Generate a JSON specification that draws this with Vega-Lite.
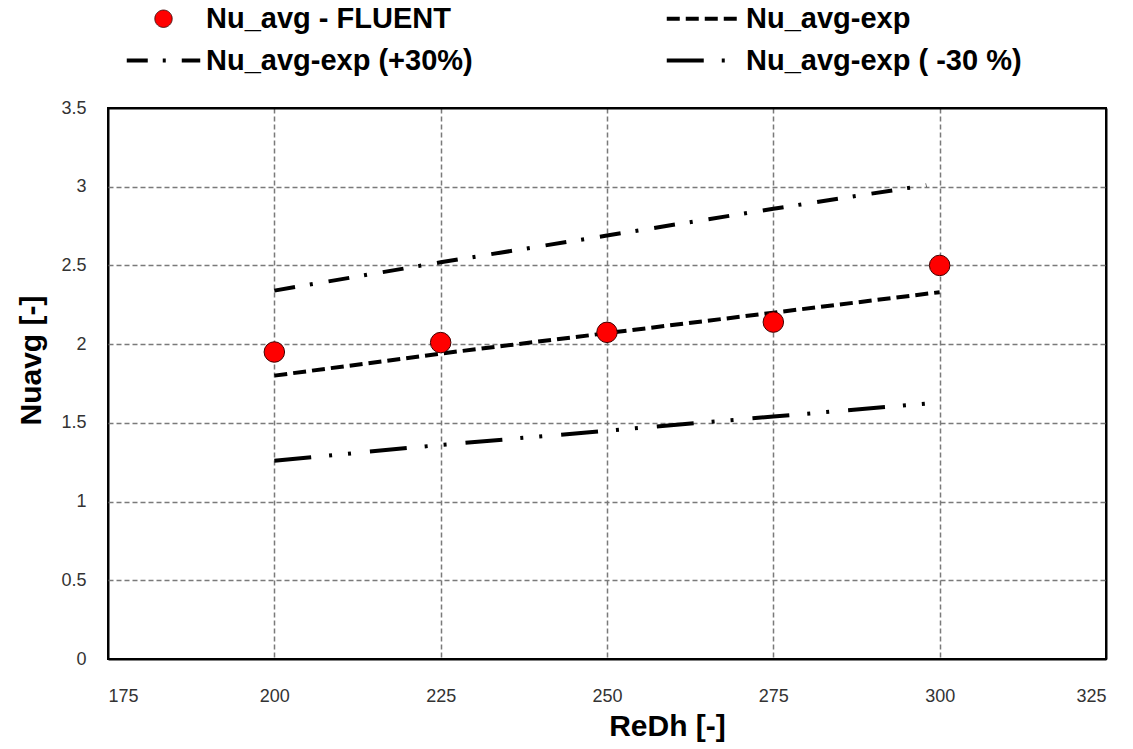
{
  "$schema": "https://vega.github.io/schema/vega-lite/v6.json",
  "width": 998,
  "height": 551,
  "autosize": {"type": "none"},
  "padding": {"left": 108, "top": 108, "right": 27, "bottom": 90},
  "background": "white",
  "config": {
    "view": {"stroke": "black", "strokeWidth": 2},
    "font": "Liberation Sans",
    "axis": {
      "domain": false,
      "ticks": false,
      "grid": true,
      "gridWidth": 1.5,
      "labelFont": "Liberation Sans",
      "labelFontSize": 18,
      "labelColor": "#333",
      "titleFont": "Liberation Sans",
      "titleFontSize": 30,
      "titleFontWeight": "bold",
      "titleColor": "black"
    }
  },
  "data": {
    "values": [
      {"series": "Nu_avg - FLUENT", "Re": 200, "Nu": 1.95},
      {"series": "Nu_avg - FLUENT", "Re": 225, "Nu": 2.01},
      {"series": "Nu_avg - FLUENT", "Re": 250, "Nu": 2.075},
      {"series": "Nu_avg - FLUENT", "Re": 275, "Nu": 2.14},
      {"series": "Nu_avg - FLUENT", "Re": 300, "Nu": 2.5},
      {"series": "Nu_avg-exp", "Re": 200, "Nu": 1.8},
      {"series": "Nu_avg-exp", "Re": 225, "Nu": 1.94},
      {"series": "Nu_avg-exp", "Re": 250, "Nu": 2.07},
      {"series": "Nu_avg-exp", "Re": 275, "Nu": 2.2},
      {"series": "Nu_avg-exp", "Re": 300, "Nu": 2.33},
      {"series": "Nu_avg-exp (+30%)", "Re": 200, "Nu": 2.34},
      {"series": "Nu_avg-exp (+30%)", "Re": 225, "Nu": 2.52},
      {"series": "Nu_avg-exp (+30%)", "Re": 250, "Nu": 2.69},
      {"series": "Nu_avg-exp (+30%)", "Re": 275, "Nu": 2.86},
      {"series": "Nu_avg-exp (+30%)", "Re": 298, "Nu": 3.01},
      {"series": "Nu_avg-exp ( -30 %)", "Re": 200, "Nu": 1.26},
      {"series": "Nu_avg-exp ( -30 %)", "Re": 225, "Nu": 1.36},
      {"series": "Nu_avg-exp ( -30 %)", "Re": 250, "Nu": 1.45},
      {"series": "Nu_avg-exp ( -30 %)", "Re": 275, "Nu": 1.54},
      {"series": "Nu_avg-exp ( -30 %)", "Re": 300, "Nu": 1.63}
    ]
  },
  "encoding": {
    "x": {
      "field": "Re", "type": "quantitative",
      "scale": {"domain": [175, 325], "nice": false, "zero": false},
      "axis": {
        "values": [175, 200, 225, 250, 275, 300, 325],
        "labelPadding": 28, "title": "ReDh [-]", "titlePadding": 6, "titleX": 559,
        "gridColor": {"condition": {"test": "datum.value === 175 || datum.value === 325", "value": "black"}, "value": "#7a7a7a"},
        "gridDash": {"condition": {"test": "datum.value === 175 || datum.value === 325", "value": []}, "value": [5, 3]},
        "gridWidth": {"condition": {"test": "datum.value === 175 || datum.value === 325", "value": 2}, "value": 1.5}
      }
    },
    "y": {
      "field": "Nu", "type": "quantitative",
      "scale": {"domain": [0, 3.5], "nice": false},
      "axis": {
        "values": [0, 0.5, 1, 1.5, 2, 2.5, 3, 3.5],
        "labelExpr": "format(datum.value, '~g')",
        "labelPadding": 22, "title": "Nuavg    [-]", "titlePadding": 14, "titleY": 252,
        "gridColor": {"condition": {"test": "datum.value === 0 || datum.value === 3.5", "value": "black"}, "value": "#7a7a7a"},
        "gridDash": {"condition": {"test": "datum.value === 0 || datum.value === 3.5", "value": []}, "value": [5, 3]},
        "gridWidth": {"condition": {"test": "datum.value === 0 || datum.value === 3.5", "value": 2}, "value": 1.5}
      }
    }
  },
  "layer": [
    {
      "transform": [{"filter": "datum.series !== 'Nu_avg - FLUENT'"}],
      "mark": {"type": "line", "color": "black", "strokeWidth": 4, "strokeCap": "butt"},
      "encoding": {
        "strokeDash": {
          "field": "series", "type": "nominal",
          "scale": {
            "domain": ["Nu_avg - FLUENT", "Nu_avg-exp", "Nu_avg-exp (+30%)", "Nu_avg-exp ( -30 %)"],
            "range": [[1, 0], [13, 6], [21, 15, 3, 16], [37, 18, 3, 16, 3, 19]]
          },
          "legend": {
            "title": null,
            "orient": "none",
            "legendX": 41,
            "legendY": -104,
            "direction": "horizontal",
            "columns": 2,
            "columnPadding": 185,
            "rowPadding": 12,
            "symbolType": "stroke",
            "symbolSize": 5400,
            "symbolStrokeWidth": 4,
            "symbolStrokeColor": "black",
            "labelFont": "Liberation Sans",
            "labelFontSize": 29,
            "labelFontWeight": "bold",
            "labelColor": "black",
            "labelOffset": 28,
            "labelLimit": 500,
            "encode": {
              "symbols": {
                "update": {
                  "shape": {"signal": "datum.value === 'Nu_avg - FLUENT' ? 'circle' : 'stroke'"},
                  "size": {"signal": "datum.value === 'Nu_avg - FLUENT' ? 300 : 5400"},
                  "fill": {"signal": "datum.value === 'Nu_avg - FLUENT' ? 'red' : 'transparent'"},
                  "stroke": {"signal": "datum.value === 'Nu_avg - FLUENT' ? '#400000' : 'black'"},
                  "strokeWidth": {"signal": "datum.value === 'Nu_avg - FLUENT' ? 1 : 4"}
                }
              }
            }
          }
        }
      }
    },
    {
      "transform": [{"filter": "datum.series === 'Nu_avg - FLUENT'"}],
      "mark": {"type": "point", "filled": true, "fill": "red", "stroke": "#400000", "strokeWidth": 1, "size": 420, "opacity": 1, "shape": "circle"}
    }
  ]
}
